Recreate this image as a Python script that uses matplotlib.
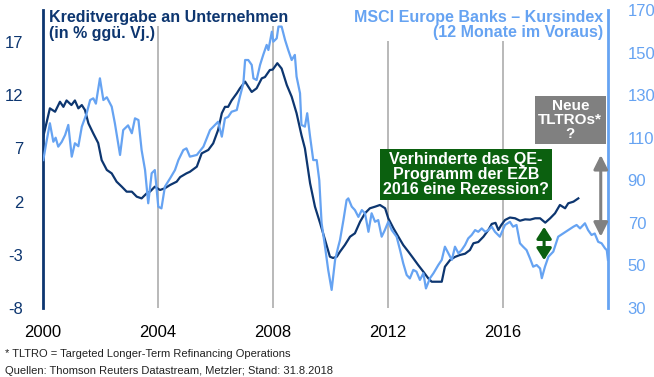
import matplotlib
matplotlib.use("Agg")
import matplotlib.pyplot as plt

plt.rcParams['font.family'] = ['Liberation Sans', 'DejaVu Sans']
plt.rcParams['axes.unicode_minus'] = False

# Kreditvergabe an Unternehmen (in % ggue. Vj.), left axis
kredit_x = [2000.02, 2000.25, 2000.43, 2000.6, 2000.72, 2000.83, 2001.0, 2001.12, 2001.24, 2001.36,
            2001.47, 2001.59, 2001.76, 2001.93, 2002.05, 2002.23, 2002.4, 2002.57, 2002.75, 2002.92,
            2003.1, 2003.27, 2003.44, 2003.62, 2003.73, 2003.9, 2004.08, 2004.25, 2004.43, 2004.66,
            2004.78, 2005.0, 2005.12, 2005.36, 2005.53, 2005.76, 2005.93, 2006.1, 2006.23, 2006.34,
            2006.45, 2006.57, 2006.75, 2006.86, 2007.04, 2007.15, 2007.27, 2007.44, 2007.62, 2007.73,
            2007.9, 2008.0, 2008.16, 2008.31, 2008.49, 2008.66, 2008.83, 2009.0, 2009.12, 2009.3,
            2009.47, 2009.65, 2009.82, 2009.99, 2010.1, 2010.23, 2010.34, 2010.51, 2010.69, 2010.86,
            2011.04, 2011.21, 2011.38, 2011.56, 2011.73, 2011.91, 2012.02, 2012.2, 2012.37, 2012.54,
            2012.72, 2012.89, 2013.06, 2013.24, 2013.41, 2013.53, 2013.7, 2013.88, 2013.99, 2014.17,
            2014.34, 2014.51, 2014.69, 2014.86, 2014.98, 2015.15, 2015.33, 2015.5, 2015.62, 2015.75,
            2015.85, 2015.95, 2016.08, 2016.25, 2016.43, 2016.6, 2016.78, 2016.95, 2017.13, 2017.3,
            2017.48, 2017.65, 2017.82, 2017.99, 2018.17, 2018.28, 2018.46, 2018.63]
kredit_y = [8.1, 10.76, 10.44, 11.38, 10.9, 11.5, 11.07, 11.5, 10.76, 11.07,
            10.6, 9.35, 8.4, 7.5, 5.9, 4.97, 4.65, 3.87, 3.4, 2.93,
            2.93, 2.46, 2.3, 2.78, 2.93, 3.4, 3.09, 3.25, 3.56, 3.87,
            4.3, 4.65, 4.8, 5.28, 6.53, 6.85, 7.47, 8.72, 10.3, 10.9,
            10.9, 11.5, 12.17, 12.64, 13.27, 12.8, 12.3, 12.64, 13.58, 13.7,
            14.36, 14.4, 15.0, 14.5, 12.95, 11.85, 10.3, 8.25, 7.0, 3.72,
            1.52, -0.04, -1.6, -3.18, -3.3, -3.18, -2.71, -2.08, -1.3, -0.98,
            0.11, 0.9, 1.37, 1.52, 1.68, 1.37, 0.43, -0.51, -1.3, -2.08,
            -2.71, -3.33, -3.96, -4.59, -5.21, -5.53, -5.53, -5.53, -4.12, -3.49,
            -3.2, -3.02, -2.9, -2.55, -1.92, -1.8, -1.3, -0.67, -0.1, 0.0,
            -0.67, -0.2, 0.27, 0.5, 0.43, 0.2, 0.33, 0.3, 0.43, 0.43,
            0.02, 0.43, 0.9, 1.68, 1.37, 1.84, 1.99, 2.3]

# MSCI Europe Banks - Kursindex (12 Monate im Voraus), right axis
msci_x = [2000.02, 2000.13, 2000.25, 2000.37, 2000.45, 2000.54, 2000.66, 2000.78, 2000.89, 2001.01,
          2001.12, 2001.24, 2001.36, 2001.53, 2001.65, 2001.76, 2001.85, 2001.99, 2002.11, 2002.23,
          2002.4, 2002.51, 2002.69, 2002.8, 2002.97, 2003.1, 2003.21, 2003.33, 2003.44, 2003.56,
          2003.67, 2003.79, 2003.9, 2004.02, 2004.13, 2004.25, 2004.43, 2004.6, 2004.72, 2004.89,
          2005.0, 2005.12, 2005.36, 2005.59, 2005.82, 2005.99, 2006.1, 2006.23, 2006.34, 2006.45,
          2006.57, 2006.75, 2006.86, 2006.98, 2007.04, 2007.15, 2007.27, 2007.33, 2007.44, 2007.56,
          2007.67, 2007.79, 2007.85, 2007.97, 2008.02, 2008.14, 2008.2, 2008.31, 2008.43, 2008.54,
          2008.66, 2008.77, 2008.83, 2008.95, 2009.0, 2009.12, 2009.2, 2009.3, 2009.41, 2009.53,
          2009.62, 2009.7, 2009.82, 2009.93, 2010.05, 2010.17, 2010.28, 2010.34, 2010.46, 2010.57,
          2010.63, 2010.75, 2010.86, 2010.98, 2011.1, 2011.21, 2011.33, 2011.44, 2011.56, 2011.67,
          2011.79, 2011.9, 2012.02, 2012.14, 2012.31, 2012.43, 2012.54, 2012.66, 2012.77, 2012.89,
          2013.0, 2013.12, 2013.24, 2013.33, 2013.47, 2013.59, 2013.76, 2013.88, 2013.99, 2014.11,
          2014.23, 2014.34, 2014.46, 2014.57, 2014.69, 2014.8, 2014.92, 2015.04, 2015.15, 2015.27,
          2015.39, 2015.5, 2015.62, 2015.73, 2015.9, 2016.08, 2016.25, 2016.36, 2016.48, 2016.6,
          2016.71, 2016.83, 2016.95, 2017.06, 2017.18, 2017.3, 2017.36, 2017.47, 2017.59, 2017.76,
          2017.93, 2018.1, 2018.28, 2018.46, 2018.57, 2018.69, 2018.86, 2018.97, 2019.09, 2019.2,
          2019.32, 2019.44, 2019.56, 2019.62, 2019.66]
msci_y = [99.5, 108, 116.8, 108.1, 110, 105.8, 108, 111.3, 116, 101.1,
          107.4, 106, 115.2, 121.5, 127.7, 128.5, 126, 137.9, 127.7, 129,
          124.6, 116.8, 101.9, 113.6, 115.8, 112.1, 119.1, 118.3, 104.2, 94.8,
          79.2, 93.3, 94.8, 77.6, 76.8, 87, 90.9, 94.8, 99.5, 104.2,
          105, 101.1, 101.9, 105.8, 113.6, 116, 117.5, 110.5, 119.1, 119.8,
          122.2, 123, 129.3, 135.6, 146.5, 146.5, 144.2, 137.9, 137.1, 144.2,
          148.9, 153.6, 151.2, 159.8, 155.1, 156.7, 162.2, 162.2, 155.9, 151.2,
          146.5, 148.9, 138.7, 130.9, 116, 115.2, 121.5, 110.5, 99.5, 99.5,
          90, 70, 58.8, 47.9, 38.5, 52.6, 58.8, 61.9, 71.3, 80.7,
          81.5, 77.6, 76, 72.8, 76, 74.5, 65.8, 74.5, 70.5, 71.3,
          63.5, 66.6, 70.5, 66.6, 63.5, 57.2, 51, 45.5, 43.9, 47.9,
          47.1, 43.2, 46.3, 39.2, 44, 46.3, 50.2, 52.6, 58.8, 55.7,
          52.6, 58.8, 55.7, 57.2, 59.6, 62.7, 64.3, 66.6, 65.8, 67.4,
          65.8, 66.6, 68.2, 65.8, 63.5, 69, 70.5, 68.2, 69, 60.4,
          58.8, 57.2, 53.3, 49.4, 50.2, 48.6, 44, 49.4, 54.1, 56.5,
          63.5, 65, 66.6, 68.2, 69, 67.4, 69.8, 66.6, 64.3, 65,
          61.1, 60.4, 58, 57.2, 52.6]

left_ticks = [-8, -3, 2, 7, 12, 17]
right_ticks = [30, 50, 70, 90, 110, 130, 150, 170]
year_ticks = [2000, 2004, 2008, 2012, 2016]

navy = '#0d3670'
light = '#66a3f2'
green = '#0b600f'
grey = '#808080'

fig = plt.figure(figsize=(6.54, 3.77), dpi=100)
ax = fig.add_axes([0.0653, 0.183, 0.8647, 0.7905])
ax2 = ax.twinx()

for yr in year_ticks[1:]:
    ax.axvline(yr, color='#a6a6a6', lw=1.1, zorder=0)

ax.plot(kredit_x, kredit_y, color=navy, lw=1.6, zorder=3)
ax2.plot(msci_x, msci_y, color=light, lw=1.6, zorder=2)

ax.set_xlim(2000, 2019.67)
ax.set_ylim(-8, 20)
ax2.set_ylim(30, 170)
ax.set_yticks(left_ticks)
ax2.set_yticks(right_ticks)
ax.set_xticks(year_ticks)
ax.tick_params(axis='y', length=0, pad=14, labelsize=12, labelcolor=navy)
ax2.tick_params(axis='y', length=0, pad=14, labelsize=12, labelcolor=light)
ax.tick_params(axis='x', length=0, pad=12, labelsize=12, labelcolor='black')

for a in (ax, ax2):
    a.spines['top'].set_visible(False)
    a.spines['bottom'].set_visible(False)
    a.patch.set_visible(False)
ax.spines['right'].set_visible(False)
ax2.spines['left'].set_visible(False)
ax.spines['left'].set_color(navy)
ax.spines['left'].set_linewidth(2)
ax2.spines['right'].set_color(light)
ax2.spines['right'].set_linewidth(2)

# axis titles
ax.text(0.011, 1.0, 'Kreditvergabe an Unternehmen', transform=ax.transAxes, ha='left', va='top',
        fontsize=11.5, fontweight='bold', color=navy,
        bbox=dict(facecolor='white', edgecolor='none', pad=0.5), zorder=5)
ax.text(0.011, 0.945, '(in % ggü. Vj.)', transform=ax.transAxes, ha='left', va='top',
        fontsize=11.5, fontweight='bold', color=navy,
        bbox=dict(facecolor='white', edgecolor='none', pad=0.5), zorder=5)
ax2.text(0.991, 1.0, 'MSCI Europe Banks – Kursindex\n(12 Monate im Voraus)', transform=ax2.transAxes,
         ha='right', va='top', fontsize=11.5, fontweight='bold', color=light, linespacing=1.0,
         multialignment='right', bbox=dict(facecolor='white', edgecolor='none', pad=0.5), zorder=5)

# annotations
ax2.text(0.7484, 0.448, 'Verhinderte das QE-\nProgramm der EZB\n2016 eine Rezession?',
         transform=ax2.transAxes, ha='center', va='center', fontsize=11.5, fontweight='bold',
         color='white', linespacing=1.0,
         bbox=dict(boxstyle='square,pad=0.18', facecolor=green, edgecolor='none'), zorder=6)
ax2.text(0.933, 0.631, 'Neue\nTLTROs*\n?', transform=ax2.transAxes, ha='center', va='center',
         fontsize=11, fontweight='bold', color='white', linespacing=1.0,
         bbox=dict(boxstyle='square,pad=0.22', facecolor=grey, edgecolor='none'), zorder=6)

ax2.annotate('', xy=(2019.41, 63.5), xytext=(2019.41, 101.9),
             arrowprops=dict(arrowstyle='<|-|>,head_length=0.6,head_width=0.3', color=grey,
                             lw=2.2, shrinkA=0, shrinkB=0, mutation_scale=14), zorder=6)
ax2.annotate('', xy=(2017.44, 52.5), xytext=(2017.44, 68.1),
             arrowprops=dict(arrowstyle='<|-|>,head_length=0.5,head_width=0.32', color=green,
                             lw=2.2, shrinkA=0, shrinkB=0, mutation_scale=14), zorder=6)

fig.text(0.008, 0.061, '* TLTRO = Targeted Longer-Term Refinancing Operations', fontsize=8,
         color='#222222', va='center', ha='left')
fig.text(0.008, 0.016, 'Quellen: Thomson Reuters Datastream, Metzler; Stand: 31.8.2018', fontsize=8,
         color='#222222', va='center', ha='left')

fig.savefig('out.png', dpi=100)
